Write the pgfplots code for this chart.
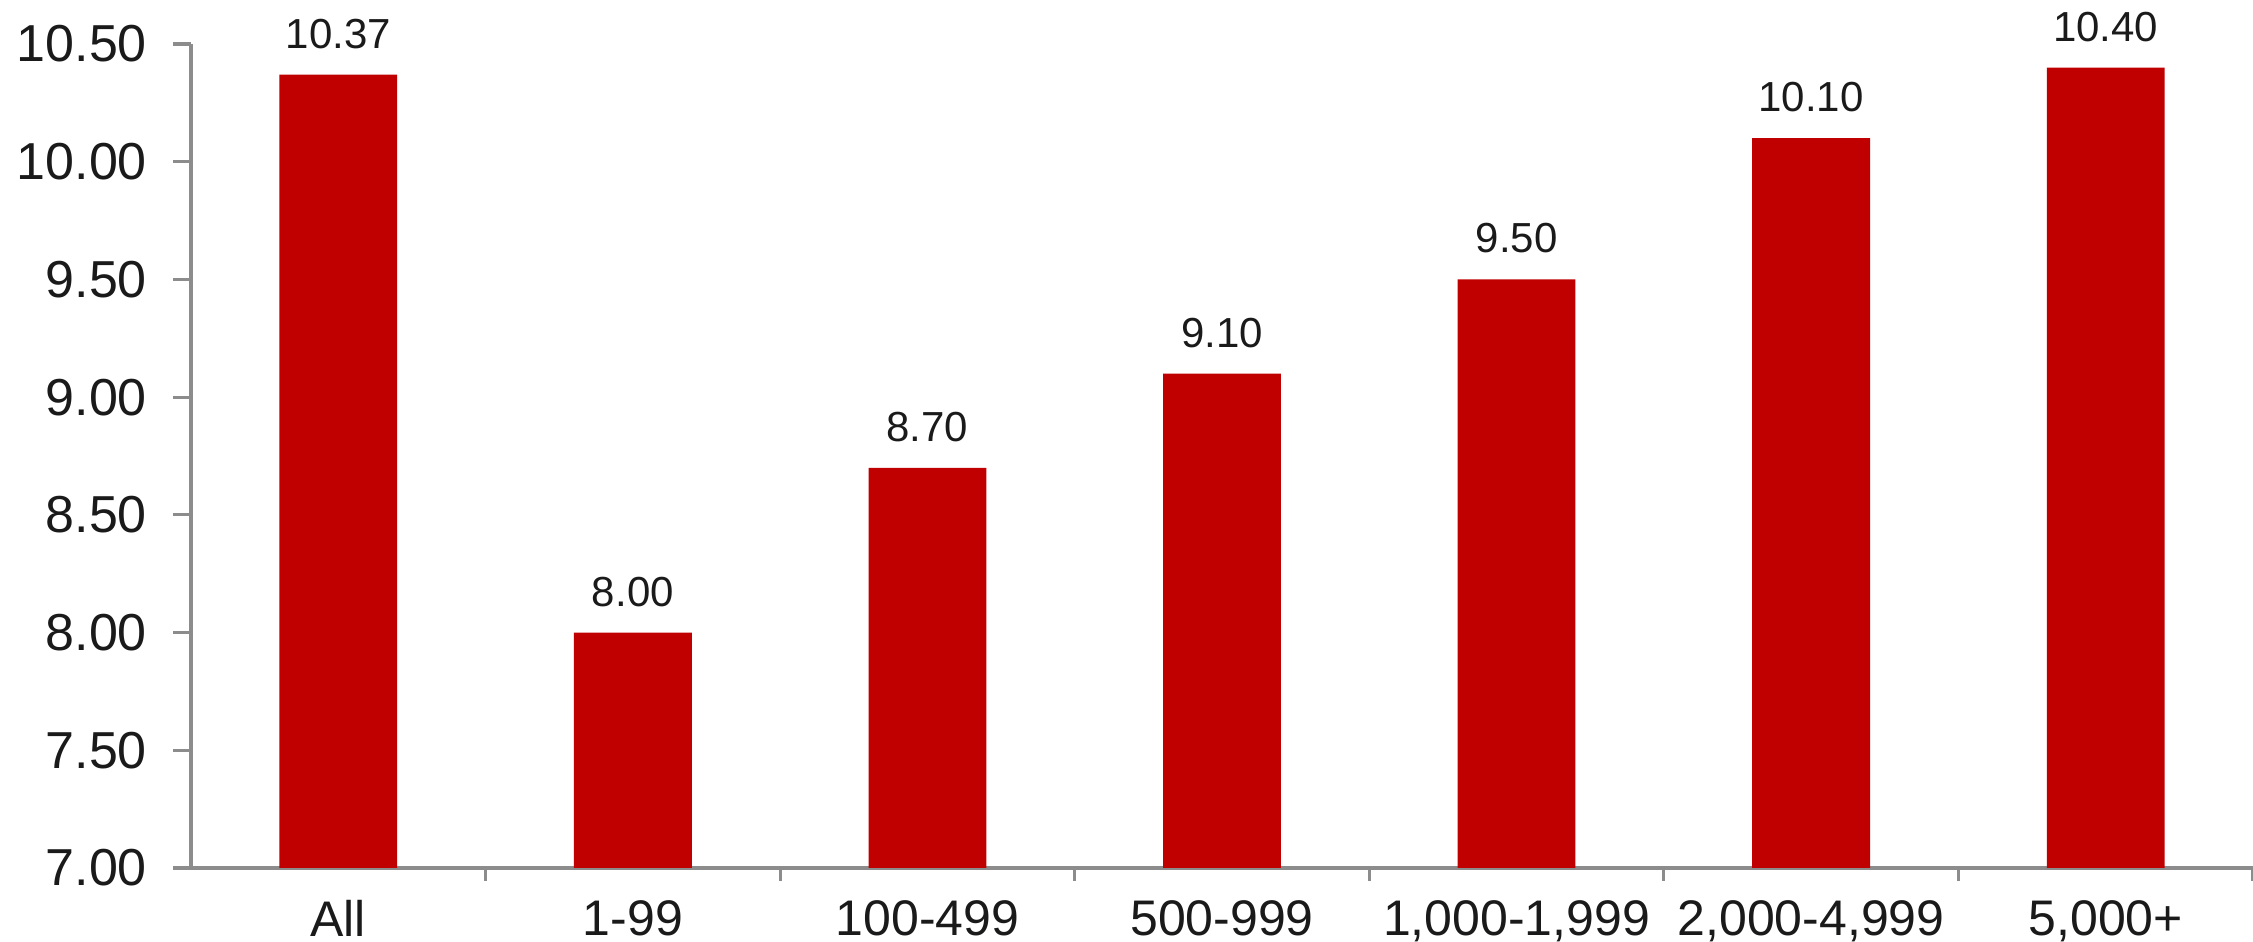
\documentclass[border=0pt]{standalone}
\usepackage{fontspec}
\setmainfont{Liberation Sans}
\usepackage{pgfplots}
\pgfplotsset{compat=1.18}
\definecolor{barred}{HTML}{C00000}
\definecolor{axgray}{HTML}{8C8C8C}
\definecolor{txt}{HTML}{1A1A1A}
\begin{document}
\begin{tikzpicture}
\begin{axis}[
  at={(0pt,0pt)}, anchor=south west,
  scale only axis,
  width=515.5pt, height=206pt,
  xmin=-0.5, xmax=6.5,
  ymin=7, ymax=10.5,
  axis lines=left,
  axis line style={-, axgray, line width=0.8pt},
  xtick={0,...,6},
  xticklabels={All,1-99,100-499,500-999,{1,000-1,999},{2,000-4,999},{5,000+}},
  major x tick style={draw=none},
  minor xtick={0.5,1.5,...,6.5},
  minor x tick style={axgray, line width=0.8pt},
  minor tick length=3.3pt,
  ytick={7,7.5,...,10.5},
  major y tick style={axgray, line width=0.8pt},
  major tick length=4.5pt,
  tick align=outside,
  /pgf/number format/assume math mode=true,
  yticklabel={\pgfmathprintnumber[fixed,fixed zerofill,precision=2]{\tick}},
  yticklabel style={font=\fontsize{13}{15}\selectfont, text=txt, xshift=-3pt},
  xticklabel style={font=\fontsize{12.5}{14}\selectfont, text=txt, yshift=0pt},
  ybar, bar width=0.4,
  nodes near coords,
  nodes near coords style={font=\fontsize{10.5}{12}\selectfont, text=txt, yshift=3pt,
    /pgf/number format/.cd, fixed, fixed zerofill, precision=2, assume math mode=true},
  clip=false,
]
\addplot[fill=barred, draw=none] coordinates {(0,10.37) (1,8.00) (2,8.70) (3,9.10) (4,9.50) (5,10.10) (6,10.40)};
\end{axis}
\pgfresetboundingbox
\path[use as bounding box] (-47.75pt,-18.5pt) rectangle (515.5pt,217pt);
\end{tikzpicture}
\end{document}
